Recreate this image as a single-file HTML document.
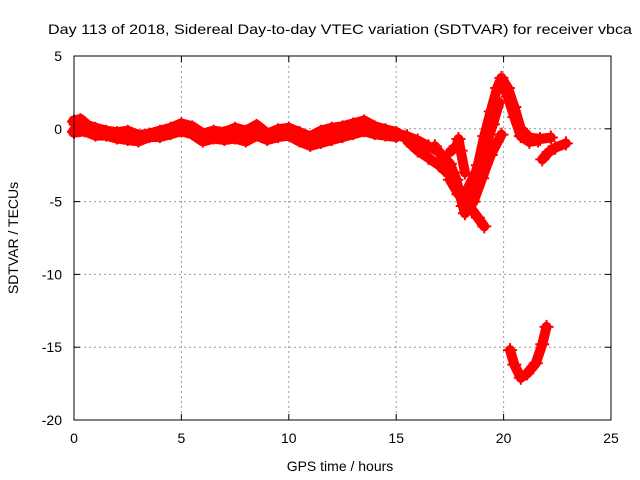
<!DOCTYPE html>
<html><head><meta charset="utf-8"><style>
body{margin:0;background:#fff}
svg{display:block;font-family:"Liberation Sans",sans-serif;font-size:14px}
</style></head><body>
<svg width="640" height="480" id="c">
<rect width="640" height="480" fill="#fff"/>
<text x="340" y="34" text-anchor="middle" textLength="584" lengthAdjust="spacingAndGlyphs">Day 113 of 2018, Sidereal Day-to-day VTEC variation (SDTVAR) for receiver vbca</text>
<text x="340" y="471" text-anchor="middle">GPS time / hours</text>
<text transform="translate(18,238) rotate(-90)" text-anchor="middle">SDTVAR / TECUs</text>
<g id="grid"></g><g id="marks"></g>
<rect x="74" y="56" width="537" height="364" fill="none" stroke="#000"/>
</svg>
<script>
const xTicks=[0,5,10,15,20,25];
const yTicks=[5,0,-5,-10,-15,-20];
// tracks of [hour, value]
const trackMainA=[[0,0.5],[0.3,0.6],[0.6,0.2],[1,0],[1.5,-0.2],[2,-0.3],[2.5,-0.2],[3,-0.5],[3.5,-0.4],[4,-0.2],[4.5,0],[5,0.3],[5.5,0.1],[6,-0.4],[6.5,-0.2],[7,-0.3],[7.5,0],[8,-0.2],[8.5,0.2],[9,-0.4],[9.5,-0.1],[10,0],[10.5,-0.3],[11,-0.6],[11.5,-0.2],[12,0],[12.5,0.1],[13,0.3],[13.5,0.5],[14,0.1],[14.5,-0.1],[15,-0.3]];
const trackMainB=[[0,-0.2],[0.5,-0.1],[1,-0.4],[1.5,-0.4],[2,-0.6],[2.5,-0.7],[3,-0.8],[3.5,-0.5],[4,-0.5],[4.5,-0.3],[5,-0.1],[5.5,-0.3],[6,-0.8],[6.5,-0.6],[7,-0.7],[7.5,-0.6],[8,-0.8],[8.5,-0.4],[9,-0.7],[9.5,-0.5],[10,-0.4],[10.5,-0.8],[11,-1.1],[11.5,-0.9],[12,-0.7],[12.5,-0.5],[13,-0.3],[13.5,-0.1],[14,-0.3],[14.5,-0.4],[15,-0.5]];
const trackB=[[15,-0.3],[15.5,-0.5],[16,-0.8],[16.5,-1.2],[17,-1.6],[17.5,-2.4],[17.8,-3.5],[18.1,-5.3],[18.5,-4.2],[18.8,-2.5],[19.1,-0.5],[19.4,1.2],[19.7,2.8],[19.9,3.5],[20.2,2.8],[20.5,1.5],[20.8,0],[21.2,-0.6],[21.7,-0.7],[22.2,-0.6]];
const trackB2=[[19.9,3.2],[20.2,2.2],[20.5,0.8],[20.8,-0.5],[21.2,-0.9],[21.6,-0.8]];
const trackC=[[15.5,-0.8],[16,-1.5],[16.5,-2],[17,-2.5],[17.5,-3.2],[17.9,-4.2],[18.2,-5.8],[18.6,-5],[19,-3.4],[19.4,-1.8],[19.9,-0.4]];
const trackD=[[16.8,-1.2],[17.2,-2],[17.6,-3],[18,-4.5],[18.4,-5.3],[18.8,-6.1],[19.1,-6.7]];
const trackD2=[[17.5,-3.5],[17.9,-4.5],[18.3,-4.2],[18.7,-3],[19.1,-1.5],[19.5,0.3],[19.8,1.8]];
const trackG=[[17.5,-1.6],[17.8,-1.2],[17.9,-0.7],[18,-1.5],[18.2,-3]];
const trackE=[[21.8,-2.1],[22.1,-1.6],[22.4,-1.3],[22.9,-1.0]];
const trackF=[[20.3,-15.2],[20.5,-16.2],[20.8,-17.1],[21.1,-16.8],[21.5,-16.1],[21.8,-14.8],[22,-13.6]];
const tracks=[trackMainA,trackMainB,trackB,trackB2,trackC,trackD,trackD2,trackG,trackE,trackF];
const X=h=>74+h*537/25, Y=v=>56+(5-v)*364/25;
const NS="http://www.w3.org/2000/svg";
const g=document.getElementById('grid'), m=document.getElementById('marks');
function el(t,a,p){const e=document.createElementNS(NS,t);for(const k in a)e.setAttribute(k,a[k]);p.appendChild(e);return e;}
xTicks.forEach(t=>{
 if(t>0&&t<25){const l=el('line',{x1:X(t),x2:X(t),y1:56,y2:420,stroke:'#999','stroke-dasharray':'2,3'},g);
 
 }
 el('line',{x1:X(t),x2:X(t),y1:420,y2:414,stroke:'#000'},g);el('line',{x1:X(t),x2:X(t),y1:56,y2:62,stroke:'#000'},g);
 const tx=el('text',{x:X(t),y:443,'text-anchor':'middle'},g);tx.textContent=t;
 
 
});
yTicks.forEach(t=>{
 if(t<5&&t>-20){const l=el('line',{x1:74,x2:611,y1:Y(t),y2:Y(t),stroke:'#999','stroke-dasharray':'2,3'},g);
 
 }
 el('line',{x1:74,x2:80,y1:Y(t),y2:Y(t),stroke:'#000'},g);el('line',{x1:605,x2:611,y1:Y(t),y2:Y(t),stroke:'#000'},g);
 const tx=el('text',{x:62,y:Y(t)+5,'text-anchor':'end'},g);tx.textContent=t;
 
 
});
tracks.forEach((tr,i)=>{
 const pl=el('polyline',{points:tr.map(p=>X(p[0])+','+Y(p[1])).join(' '),fill:'none',stroke:'#f00','stroke-width':i<2?12:10,'stroke-linejoin':'round','stroke-linecap':'round'},m);
 
 
 tr.forEach(p=>{const x=X(p[0]),y=Y(p[1]);
  const pt=el('path',{d:`M${x-7},${y}h14M${x},${y-7}v14`,stroke:'#f00','stroke-width':2},m);
  
  });
});
</script>
</body></html>
